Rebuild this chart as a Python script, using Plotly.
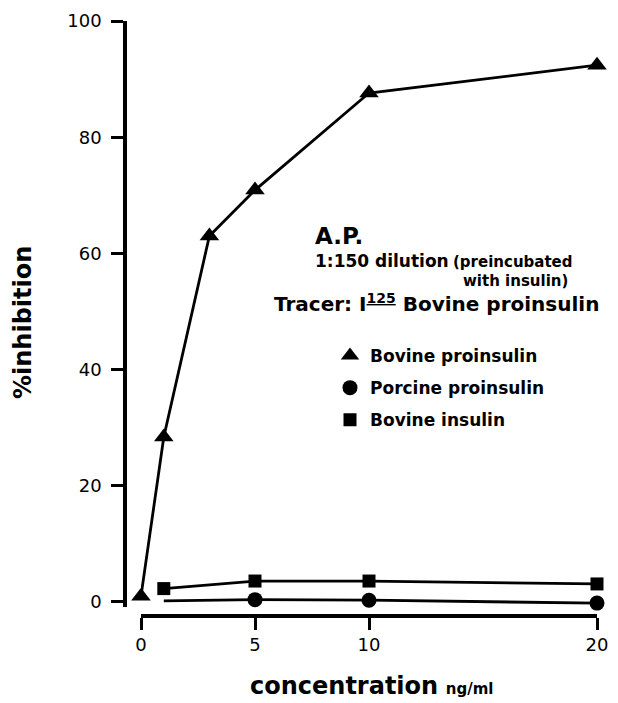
import plotly.graph_objects as go

# ---- data ----
conc_bovine_pro = [0, 1, 3, 5, 10, 20]
inhib_bovine_pro = [1.0, 28.4, 63.0, 70.9, 87.6, 92.4]

conc_porcine_pro = [1, 5, 10, 20]
inhib_porcine_pro = [0.2, 0.4, 0.3, -0.2]
porcine_marker_shown = [False, True, True, True]

conc_bovine_ins = [1, 5, 10, 20]
inhib_bovine_ins = [2.3, 3.6, 3.6, 3.1]

x_ticks = [0, 5, 10, 20]
y_ticks = [0, 20, 40, 60, 80, 100]

series_names = ["Bovine proinsulin", "Porcine proinsulin", "Bovine insulin"]

# page body has an 8px margin: figure is sized to fit the window
OFF = 8
W, H = 618 - OFF, 703 - OFF
FONT = "DejaVu Sans"


def px(x):
    return (x - OFF) / W


def py(y):
    return (H - (y - OFF)) / H


fig = go.Figure()

# lines (no legend)
for xs, ys in [(conc_bovine_pro, inhib_bovine_pro),
               (conc_porcine_pro, inhib_porcine_pro),
               (conc_bovine_ins, inhib_bovine_ins)]:
    fig.add_trace(go.Scatter(x=xs, y=ys, mode="lines",
                             line=dict(color="black", width=2.8),
                             showlegend=False, hoverinfo="skip",
                             cliponaxis=False))

# markers (legend)
fig.add_trace(go.Scatter(x=conc_bovine_pro, y=inhib_bovine_pro, mode="markers",
                         name=series_names[0], legendgroup="a",
                         marker=dict(symbol="triangle-up", size=17, color="black"),
                         cliponaxis=False))
fig.add_trace(go.Scatter(x=[x for x, s in zip(conc_porcine_pro, porcine_marker_shown) if s],
                         y=[y for y, s in zip(inhib_porcine_pro, porcine_marker_shown) if s],
                         mode="markers",
                         name=series_names[1], legendgroup="b",
                         marker=dict(symbol="circle", size=15, color="black"),
                         cliponaxis=False))
fig.add_trace(go.Scatter(x=conc_bovine_ins, y=inhib_bovine_ins, mode="markers",
                         name=series_names[2], legendgroup="c",
                         marker=dict(symbol="square", size=13, color="black"),
                         cliponaxis=False))

fig.update_layout(
    width=W, height=H,
    margin=dict(l=0, r=0, t=0, b=0),
    paper_bgcolor="white", plot_bgcolor="white",
    font=dict(family=FONT, color="black", size=17),
    xaxis=dict(domain=[px(141), px(597)], range=[0, 20],
               tickvals=x_ticks, ticktext=[str(v) for v in x_ticks],
               showgrid=False, zeroline=False,
               showline=True, linecolor="black", linewidth=3.5,
               ticks="outside", ticklen=12, tickwidth=2.5, tickcolor="black",
               anchor="free", position=py(616),
               tickfont=dict(size=18, family=FONT), automargin=False),
    yaxis=dict(domain=[py(606.6), py(21)], range=[-0.8, 100],
               tickvals=y_ticks, ticktext=[str(v) for v in y_ticks],
               showgrid=False, zeroline=False,
               showline=True, linecolor="black", linewidth=3.5,
               ticks="outside", ticklen=12, tickwidth=2.5, tickcolor="black",
               anchor="free", position=px(125), ticklabelstandoff=6,
               tickfont=dict(size=18, family=FONT), automargin=False),
    legend=dict(x=px(330), y=py(338), xanchor="left", yanchor="top",
                bgcolor="rgba(0,0,0,0)", traceorder="grouped",
                tracegroupgap=7, font=dict(size=17, family=FONT, weight="bold"),
                itemclick=False),
)

annotations = [
    dict(x=px(313), y=py(236), text="<b>A.P.</b>", font=dict(size=23)),
    dict(x=px(313), y=py(261), text="<b>1:150 dilution</b>", font=dict(size=17)),
    dict(x=px(451), y=py(262), text="<b>(preincubated</b>", font=dict(size=15)),
    dict(x=px(461), y=py(281), text="<b>with insulin)</b>", font=dict(size=15)),
    dict(x=px(272), y=py(303), text="<b>Tracer: I<sup><u>125</u></sup> Bovine proinsulin</b>",
         font=dict(size=20)),
]
for a in annotations:
    fig.add_annotation(xref="paper", yref="paper", xanchor="left", yanchor="middle",
                       showarrow=False, **a)

fig.add_annotation(xref="paper", yref="paper", x=px(248), y=py(702),
                   xanchor="left", yanchor="bottom", showarrow=False,
                   text="<b>concentration</b> <span style='font-size:15px'><b>ng/ml</b></span>",
                   font=dict(size=24))

fig.add_annotation(xref="paper", yref="paper", x=px(23), y=py(323),
                   text="<b>%inhibition</b>", textangle=-90, showarrow=False,
                   xanchor="center", yanchor="middle", font=dict(size=24))

fig.write_html("out.html")
